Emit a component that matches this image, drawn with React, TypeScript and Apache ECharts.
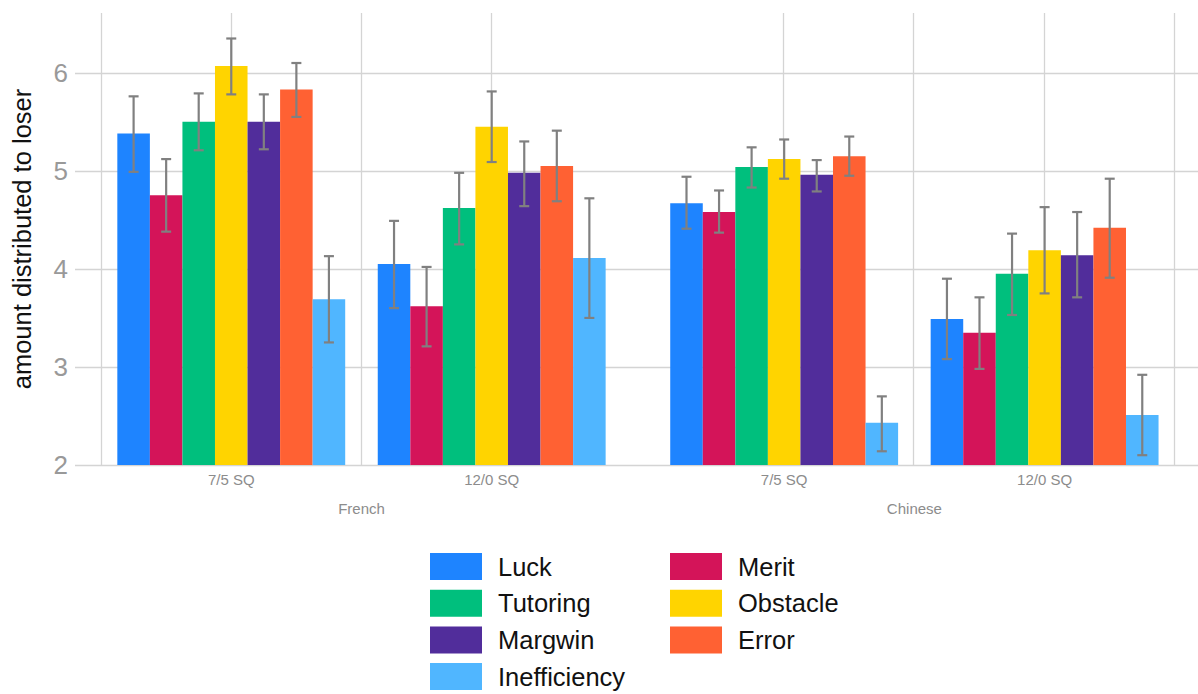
import React, { useEffect, useRef } from "react";
import * as echarts from "echarts";

// ---- data ----
const conditions = ["7/5 SQ", "12/0 SQ", "7/5 SQ", "12/0 SQ"];
const languageNames = ["French", "Chinese"];
const languageOfCondition = [0, 0, 1, 1];
// x position of each condition group (layout of the dodged groups)
const positions = [0, 1, 2.123, 3.123];
const vGridLines = [-0.5, 0, 0.5, 1, 2.123, 2.623, 3.123, 3.623];

const seriesNames = ["Luck", "Merit", "Tutoring", "Obstacle", "Margwin", "Error", "Inefficiency"];
const colors = ["#1E84FF", "#D41459", "#00BF7D", "#FFD400", "#512D9B", "#FF6133", "#50B6FF"];

const luckMean = [5.38, 4.05, 4.67, 3.49];
const luckLow = [4.99, 3.6, 4.41, 3.08];
const luckHigh = [5.76, 4.49, 4.94, 3.9];
const meritMean = [4.75, 3.62, 4.58, 3.35];
const meritLow = [4.38, 3.21, 4.37, 2.98];
const meritHigh = [5.12, 4.02, 4.8, 3.71];
const tutoringMean = [5.5, 4.62, 5.04, 3.95];
const tutoringLow = [5.21, 4.25, 4.83, 3.53];
const tutoringHigh = [5.79, 4.98, 5.24, 4.36];
const obstacleMean = [6.07, 5.45, 5.12, 4.19];
const obstacleLow = [5.78, 5.09, 4.92, 3.75];
const obstacleHigh = [6.35, 5.81, 5.32, 4.63];
const margwinMean = [5.5, 4.98, 4.96, 4.14];
const margwinLow = [5.22, 4.64, 4.79, 3.71];
const margwinHigh = [5.78, 5.3, 5.11, 4.58];
const errorMean = [5.83, 5.05, 5.15, 4.42];
const errorLow = [5.55, 4.69, 4.95, 3.91];
const errorHigh = [6.1, 5.41, 5.35, 4.92];
const inefficiencyMean = [3.69, 4.11, 2.43, 2.51];
const inefficiencyLow = [3.25, 3.5, 2.14, 2.1];
const inefficiencyHigh = [4.13, 4.72, 2.7, 2.92];

const means = [luckMean, meritMean, tutoringMean, obstacleMean, margwinMean, errorMean, inefficiencyMean];
const lows = [luckLow, meritLow, tutoringLow, obstacleLow, margwinLow, errorLow, inefficiencyLow];
const highs = [luckHigh, meritHigh, tutoringHigh, obstacleHigh, margwinHigh, errorHigh, inefficiencyHigh];

const yMin = 2;
const yMax = 6.61;
const yTicks = [2, 3, 4, 5, 6];

const FONT = "'Liberation Sans', Arial, Helvetica, sans-serif";
const BAR_W = 0.125;
const ERR_COLOR = "#808080";
const GRID_COLOR = "#d4d4d4";

export default function App() {
  const ref = useRef<HTMLDivElement>(null);

  useEffect(() => {
    if (!ref.current) return;
    const chart = echarts.init(ref.current, undefined, { renderer: "svg" });

    const barSeries = seriesNames.map((name, k) => ({
      name,
      type: "custom",
      z: 3,
      silent: true,
      itemStyle: { color: colors[k] },
      data: positions.map((p, i) => [p, means[k][i], lows[k][i], highs[k][i]]),
      renderItem: (params: any, api: any) => {
        const x = api.value(0) + (k - 3) * BAR_W;
        const v = api.value(1);
        const lo = api.value(2);
        const hi = api.value(3);
        const top = api.coord([x, v]);
        const base = api.coord([x, yMin]);
        const pHi = api.coord([x, hi]);
        const pLo = api.coord([x, lo]);
        const w = api.size([BAR_W, 0])[0];
        const cap = 5;
        return {
          type: "group",
          children: [
            {
              type: "rect",
              shape: { x: top[0] - w / 2, y: top[1], width: w, height: base[1] - top[1] },
              style: { fill: colors[k] },
            },
            {
              type: "line",
              shape: { x1: top[0], y1: pHi[1], x2: top[0], y2: pLo[1] },
              style: { stroke: ERR_COLOR, lineWidth: 2.2 },
            },
            {
              type: "line",
              shape: { x1: top[0] - cap, y1: pHi[1], x2: top[0] + cap, y2: pHi[1] },
              style: { stroke: ERR_COLOR, lineWidth: 2.2 },
            },
            {
              type: "line",
              shape: { x1: top[0] - cap, y1: pLo[1], x2: top[0] + cap, y2: pLo[1] },
              style: { stroke: ERR_COLOR, lineWidth: 2.2 },
            },
          ],
        };
      },
    }));

    const conditionLabelSeries = {
      name: "conditionLabels",
      type: "custom",
      silent: true,
      z: 1,
      data: positions.map((p, i) => [p, yMin, i]),
      renderItem: (params: any, api: any) => {
        const pt = api.coord([api.value(0), yMin]);
        const i = api.value(2);
        return {
          type: "text",
          x: pt[0],
          y: pt[1] + 14,
          style: {
            text: conditions[i],
            fill: "#8c8c8c",
            fontSize: 15,
            fontFamily: FONT,
            align: "center",
            verticalAlign: "middle",
          },
        };
      },
      markLine: {
        silent: true,
        z: 1,
        symbol: ["none", "none"],
        label: { show: false },
        lineStyle: { color: GRID_COLOR, width: 1.3, type: "solid" },
        emphasis: { disabled: true },
        data: vGridLines.map((v) => ({ xAxis: v })),
      },
    };

    const languageLabelSeries = {
      name: "languageLabels",
      type: "custom",
      silent: true,
      z: 1,
      data: languageNames.map((_, li) => {
        const ps = positions.filter((_, i) => languageOfCondition[i] === li);
        return [ps.reduce((a, b) => a + b, 0) / ps.length, yMin, li];
      }),
      renderItem: (params: any, api: any) => {
        const pt = api.coord([api.value(0), yMin]);
        const li = api.value(2);
        return {
          type: "text",
          x: pt[0],
          y: pt[1] + 43,
          style: {
            text: languageNames[li],
            fill: "#8c8c8c",
            fontSize: 15,
            fontFamily: FONT,
            align: "center",
            verticalAlign: "middle",
          },
        };
      },
    };

    const legendBase = {
      orient: "vertical",
      top: 553,
      height: 140,
      padding: 0,
      itemWidth: 52,
      itemHeight: 27,
      itemGap: 9.7,
      icon: "rect",
      selectedMode: false,
      textStyle: {
        fontSize: 25.5,
        color: "#111",
        fontFamily: FONT,
        padding: [0, 0, 0, 11],
        lineHeight: 27,
      },
    };

    chart.setOption({
      animation: false,
      grid: { left: 75, right: 0, top: 13, bottom: 229, containLabel: false },
      legend: [
        { ...legendBase, left: 430, data: ["Luck", "Tutoring", "Margwin", "Inefficiency"] },
        { ...legendBase, left: 670, data: ["Merit", "Obstacle", "Error"] },
      ],
      xAxis: {
        type: "value",
        min: -0.6,
        max: 3.712,
        axisLabel: { show: false },
        axisTick: { show: false },
        axisLine: { show: false },
        splitLine: { show: false },
      },
      yAxis: {
        type: "value",
        min: yMin,
        max: yMax,
        interval: 1,
        name: "amount distributed to loser",
        nameLocation: "middle",
        nameGap: 40,
        nameTextStyle: { fontSize: 25.5, color: "#111", fontFamily: FONT },
        axisLine: { show: false },
        axisTick: { show: false },
        axisLabel: {
          fontSize: 26,
          color: "#999999",
          fontFamily: FONT,
          margin: 7,
          showMaxLabel: false,
          formatter: (v: number) => (yTicks.includes(v) ? String(v) : ""),
        },
        splitLine: {
          show: true,
          showMaxLine: false,
          lineStyle: { color: GRID_COLOR, width: 1.3 },
        },
      },
      series: [conditionLabelSeries, languageLabelSeries, ...barSeries],
    });

    return () => chart.dispose();
  }, []);

  return (
    <div
      ref={ref}
      style={{ position: "absolute", left: 0, top: 0, width: 1198, height: 694, background: "#fff" }}
    />
  );
}
